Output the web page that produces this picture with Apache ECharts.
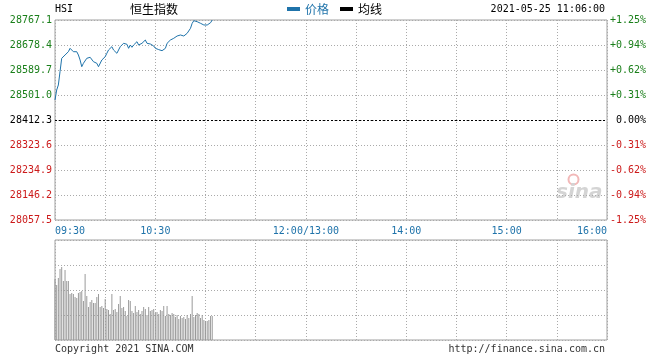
<!DOCTYPE html>
<html>
<head>
<meta charset="utf-8">
<script src="https://cdn.jsdelivr.net/npm/echarts@6/dist/echarts.min.js"></script>
<style>
  html, body { margin: 0; padding: 0; background: #fff; }
  #chart { width: 660px; height: 360px; }
</style>
</head>
<body>
<div id="chart"></div>
<script>
// HSI intraday, one point per minute from 09:30
const prevClose = 28412.3;
const priceValues = [
  28483.3, 28518.7, 28536.5, 28583.7, 28631.2, 28636.9, 28642.9, 28649.0, 28654.6, 28666.7,
  28660.7, 28654.6, 28649.0, 28654.6, 28642.9, 28625.2, 28601.4, 28613.5, 28619.1, 28631.2,
  28634.8, 28634.8, 28631.2, 28619.1, 28625.2, 28613.5, 28601.4, 28607.4, 28625.2, 28631.2,
  28636.9, 28649.0, 28660.7, 28666.7, 28672.4, 28660.7, 28654.6, 28649.0, 28660.7, 28672.4,
  28678.4, 28684.4, 28678.4, 28680.9, 28666.7, 28678.4, 28670.2, 28678.4, 28684.4, 28690.1,
  28678.4, 28672.4, 28684.4, 28690.1, 28696.1, 28684.4, 28678.4, 28681.9, 28686.6, 28674.9,
  28666.7, 28663.1, 28662.0, 28660.7, 28658.2, 28658.2, 28666.7, 28684.4, 28690.1, 28696.1,
  28698.6, 28702.2, 28707.8, 28710.3, 28707.8, 28713.9, 28717.4, 28710.3, 28707.8, 28719.9,
  28725.6, 28737.7, 28755.4, 28764.6, 28767.1, 28761.1, 28757.5, 28755.4, 28752.9, 28749.4,
  28752.9, 28749.4, 28755.4, 28757.5, 28767.1
];
const volumeValues = [
  61, 55, 62, 71, 73, 59, 70, 59, 59, 46, 47,
  46, 43, 42, 47, 48, 49, 39, 66, 44, 33,
  38, 40, 37, 37, 43, 46, 33, 34, 32, 41,
  31, 30, 26, 46, 30, 31, 28, 36, 44, 32,
  33, 29, 24, 40, 39, 29, 27, 34, 28, 30,
  26, 29, 33, 31, 25, 33, 29, 30, 31, 27,
  28, 26, 30, 29, 34, 24, 34, 26, 25, 27,
  26, 23, 25, 21, 24, 22, 23, 21, 25, 22,
  26, 44, 23, 25, 27, 26, 22, 25, 20, 19,
  19, 20, 24, 24
];
const timeTickMinutes = [0, 60, 150, 210, 270, 330];
const timeTickLabels = ['09:30', '10:30', '12:00/13:00', '14:00', '15:00', '16:00'];
const priceTicks = ['28057.5', '28146.2', '28234.9', '28323.6', '28412.3', '28501.0', '28589.7', '28678.4', '28767.1'];
const pctTicks = ['-1.25%', '-0.94%', '-0.62%', '-0.31%', ' 0.00%', '+0.31%', '+0.62%', '+0.94%', '+1.25%'];

const mono = '"DejaVu Sans Mono", monospace';
const cjk = '"Noto Sans CJK SC", sans-serif';
const green = '#1a7f1a';
const red = '#cc1a1a';
const blue = '#1f73aa';
const dotted = { type: [1, 2], color: '#aaa', width: 1 };

function tickColor(v) {
  v = Number(v);
  return v > 0 ? green : (v < 0 ? red : '#000');
}

let chart = echarts.init(document.getElementById('chart'));
chart.setOption({
  animation: false,
  grid: [
    { left: 55, right: 53, top: 20, height: 200, show: true, borderColor: '#a0a0a0', borderWidth: 1 },
    { left: 55, right: 53, top: 240, height: 100, show: true, borderColor: '#a0a0a0', borderWidth: 1 }
  ],
  legend: {
    left: 287, top: 3, padding: 0,
    icon: 'rect', itemWidth: 13, itemHeight: 4, itemGap: 11,
    selectedMode: false,
    textStyle: { fontFamily: cjk, fontSize: 12 },
    data: [
      { name: '价格', textStyle: { color: blue } },
      { name: '均线', textStyle: { color: '#000' } }
    ]
  },
  xAxis: [
    {
      gridIndex: 0, type: 'value', min: 0, max: 330, interval: 30,
      axisLine: { show: false }, axisTick: { show: false },
      splitLine: { show: true, lineStyle: dotted },
      axisLabel: {
        show: true, margin: 6, color: blue, fontFamily: mono, fontSize: 10,
        showMinLabel: true, showMaxLabel: true,
        alignMinLabel: 'left', alignMaxLabel: 'right',
        formatter: function (v) {
          let i = timeTickMinutes.indexOf(Number(v));
          return i >= 0 ? timeTickLabels[i] : '';
        }
      }
    },
    {
      gridIndex: 1, type: 'value', min: 0, max: 330, interval: 30,
      axisLine: { show: false }, axisTick: { show: false },
      axisLabel: { show: false },
      splitLine: { show: true, lineStyle: dotted }
    }
  ],
  yAxis: [
    {
      gridIndex: 0, type: 'value', position: 'left', min: -4, max: 4, interval: 1,
      axisLine: { show: false }, axisTick: { show: false },
      splitLine: { show: true, lineStyle: dotted },
      axisLabel: {
        margin: 3, fontFamily: mono, fontSize: 10, padding: [0, 0, 5, 0],
        color: tickColor,
        formatter: function (v) { return priceTicks[Number(v) + 4]; }
      }
    },
    {
      gridIndex: 0, type: 'value', position: 'right', min: -4, max: 4, interval: 1,
      axisLine: { show: false }, axisTick: { show: false },
      splitLine: { show: false },
      axisLabel: {
        margin: 3, fontFamily: mono, fontSize: 10, padding: [0, 0, 5, 0],
        color: tickColor,
        formatter: function (v) { return pctTicks[Number(v) + 4]; }
      }
    },
    {
      gridIndex: 0, type: 'value', min: 28057.5, max: 28767.1, show: false,
      splitLine: { show: false }
    },
    {
      gridIndex: 1, type: 'value', min: 0, max: 100, interval: 25,
      axisLine: { show: false }, axisTick: { show: false },
      axisLabel: { show: false },
      splitLine: { show: true, lineStyle: dotted }
    }
  ],
  series: [
    {
      name: '价格', type: 'line', xAxisIndex: 0, yAxisIndex: 2,
      showSymbol: false, symbol: 'none',
      color: blue,
      lineStyle: { width: 1, color: blue },
      data: priceValues.map((v, i) => [i, v]),
      markLine: {
        silent: true, symbol: 'none', label: { show: false },
        lineStyle: { color: '#000', type: [2, 2], width: 1 },
        data: [{ yAxis: prevClose }]
      }
    },
    {
      name: '均线', type: 'line', xAxisIndex: 0, yAxisIndex: 2,
      color: '#000', showSymbol: false, data: []
    },
    {
      name: '成交量', type: 'bar', xAxisIndex: 1, yAxisIndex: 3,
      barWidth: 1, itemStyle: { color: '#9a9a9a' },
      data: volumeValues.map((v, i) => [i, v])
    }
  ],
  graphic: [
    { type: 'text', left: 55, top: 4, style: { text: 'HSI', font: '10px ' + mono, fill: '#000' } },
    { type: 'text', left: 130, top: 3, style: { text: '恒生指数', font: '12px ' + cjk, fill: '#000' } },
    { type: 'text', right: 55, top: 4, style: { text: '2021-05-25 11:06:00', font: '10px ' + mono, fill: '#000' } },
    { type: 'text', left: 55, top: 344, style: { text: 'Copyright 2021 SINA.COM', font: '10px ' + mono, fill: '#333' } },
    { type: 'text', right: 55, top: 344, style: { text: 'http://finance.sina.com.cn', font: '10px ' + mono, fill: '#333' } },
    // faint sina watermark
    { type: 'circle', left: 566, top: 172, shape: { r: 5 }, style: { fill: 'none', stroke: '#f2b8b8', lineWidth: 2 } },
    { type: 'text', left: 556, top: 183, style: { text: 'sina', font: 'italic bold 20px "DejaVu Sans", sans-serif', fill: '#d4d4d4' } }
  ]
});
</script>
</body>
</html>
